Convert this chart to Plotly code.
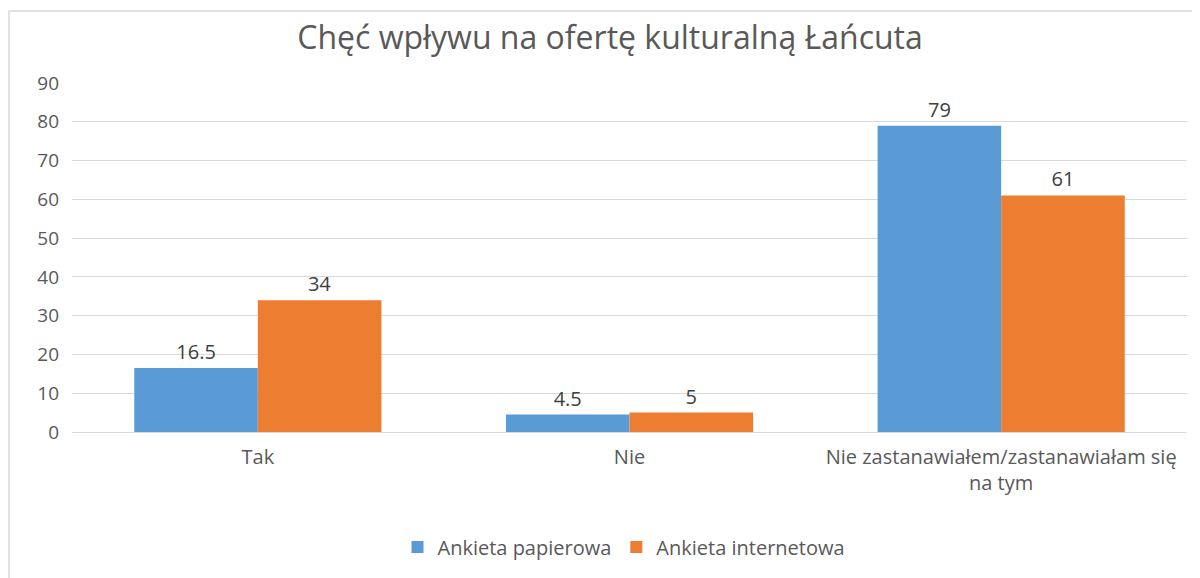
import plotly.graph_objects as go

categories = ["Tak", "Nie", "Nie zastanawiałem/zastanawiałam się<br>na tym"]
papierowa = [16.5, 4.5, 79]
internetowa = [34, 5, 61]
series_names = ["Ankieta papierowa", "Ankieta internetowa"]
y_ticks = [0, 10, 20, 30, 40, 50, 60, 70, 80, 90]

FONT = "Open Sans"
TXT = "#595959"
TICK = 19
LBL = 20

# page has an 8px body margin; work in page pixels and convert
OFF = 8
W, H = 1200 - OFF, 578 - OFF
PL, PR, PT, PB = 72, 1187, 83, 432  # plot area in page pixels
L, T = PL - OFF, PT - OFF
R = W - (PR - OFF)
B = H - (PB - OFF)
pw = PR - PL
ph = PB - PT


def px2x(px):
    return (px - PL) / pw


def py2y(py):
    return (PB - py) / ph


fig = go.Figure()
fig.add_trace(go.Bar(x=categories, y=papierowa, name=series_names[0],
                     marker=dict(color="#5B9BD5", line=dict(width=0)),
                     text=[f"{v:g}" for v in papierowa], textposition="outside",
                     textfont=dict(size=LBL, color="#404040", family=FONT), cliponaxis=False))
fig.add_trace(go.Bar(x=categories, y=internetowa, name=series_names[1],
                     marker=dict(color="#ED7D31", line=dict(width=0)),
                     text=[f"{v:g}" for v in internetowa], textposition="outside",
                     textfont=dict(size=LBL, color="#404040", family=FONT), cliponaxis=False))

fig.update_layout(
    width=W, height=H,
    margin=dict(l=L, r=R, t=T, b=B),
    paper_bgcolor="white", plot_bgcolor="white",
    font=dict(family=FONT, color=TXT, size=LBL),
    title=dict(text="Chęć wpływu na ofertę kulturalną Łańcuta", x=(610 - OFF) / W, xanchor="center",
               y=1 - (38 - OFF) / H, yanchor="middle", font=dict(size=32, color=TXT, family=FONT)),
    barmode="group", bargap=0.335, bargroupgap=0,
    xaxis=dict(showgrid=False, showline=False, ticks="", tickfont=dict(size=LBL, color=TXT),
               ticklabelstandoff=11),
    yaxis=dict(range=[0, 90], tickvals=y_ticks, showgrid=True, gridcolor="#D9D9D9", gridwidth=1,
               zeroline=True, zerolinecolor="#D9D9D9", zerolinewidth=1, showline=False,
               tickfont=dict(size=TICK, color=TXT), ticklabelstandoff=12),
    legend=dict(orientation="h", x=px2x(624), xanchor="center", y=py2y(547), yanchor="middle",
                font=dict(size=LBL, color=TXT), itemwidth=30, traceorder="normal"),
    showlegend=True,
    shapes=[
        dict(type="line", xref="paper", yref="paper", x0=px2x(8), x1=px2x(1200),
             y0=py2y(11), y1=py2y(11), line=dict(color="#E3E3E3", width=2)),
        dict(type="line", xref="paper", yref="paper", x0=px2x(9), x1=px2x(9),
             y0=py2y(11), y1=py2y(578), line=dict(color="#E3E3E3", width=2)),
    ],
)

fig.write_html("out.html")
